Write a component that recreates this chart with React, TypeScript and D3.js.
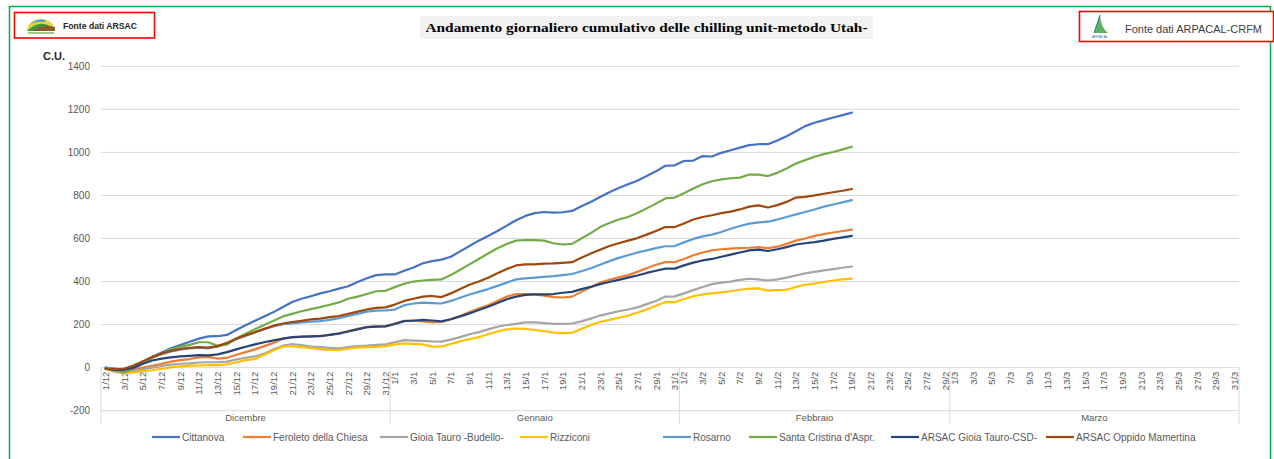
import React from "react";
import * as d3 from "d3";

const months = [
  { name: "Dicembre", days: 31, m: 12 },
  { name: "Gennaio", days: 31, m: 1 },
  { name: "Febbraio", days: 29, m: 2 },
  { name: "Marzo", days: 31, m: 3 },
];
const categories: string[] = months.flatMap((mo) =>
  Array.from({ length: mo.days }, (_, i) => `${i + 1}/${mo.m}`)
);
const yTicks = [-200, 0, 200, 400, 600, 800, 1000, 1200, 1400];

const cittanova = [0, -5, -10, 5, 25, 50, 70, 90, 105, 120, 135, 145, 146, 152, 175, 197, 218, 238, 258, 282, 305, 320, 332, 345, 355, 367, 378, 398, 415, 430, 433,
  433, 450, 465, 485, 495, 502, 515, 540, 565, 590, 612, 635, 660, 685, 705, 718, 723, 720, 722, 728, 750, 770, 793, 815, 835, 852, 868, 890, 912, 938, 940,
  960, 962, 983, 981, 998, 1010, 1022, 1034, 1038, 1038, 1055, 1075, 1098, 1122, 1138, 1150, 1162, 1173, 1185];
const feroleto = [-5, -12, -17, -10, 0, 8, 18, 28, 35, 40, 48, 50, 42, 45, 60, 72, 85, 100, 115, 135, 140, 143, 145, 148, 152, 160, 170, 180, 188, 192, 193,
  205, 218, 220, 215, 210, 212, 225, 240, 258, 275, 290, 310, 330, 342, 342, 340, 335, 328, 326, 330, 352, 375, 395, 408, 420, 430, 445, 462, 478, 490, 490,
  505, 522, 535, 545, 550, 553, 555, 557, 560, 555, 562, 575, 590, 600, 612, 620, 628, 635, 641];
const gioiaBudello = [-5, -15, -22, -15, -8, 0, 8, 14, 18, 20, 24, 25, 25, 28, 38, 46, 52, 65, 85, 102, 110, 105, 98, 95, 92, 90, 95, 100, 102, 106, 108,
  118, 128, 126, 124, 122, 121, 130, 142, 155, 165, 178, 190, 198, 203, 210, 211, 207, 203, 203, 205, 215, 228, 242, 252, 262, 270, 280, 295, 310, 330, 331,
  345, 360, 375, 388, 395, 400, 408, 413, 410, 405, 410, 418, 428, 438, 445, 452, 458, 464, 470];
const rizziconi = [-5, -20, -27, -22, -16, -12, -5, 1, 6, 9, 10, 12, 12, 15, 25, 35, 40, 60, 80, 98, 100, 95, 90, 86, 83, 82, 88, 93, 95, 96, 100,
  107, 113, 110, 108, 98, 98, 110, 122, 132, 142, 155, 168, 178, 182, 180, 175, 170, 163, 160, 162, 180, 198, 212, 222, 232, 242, 255, 270, 288, 304, 304,
  318, 332, 340, 345, 350, 355, 362, 367, 368, 358, 360, 362, 375, 385, 390, 398, 405, 410, 414];
const rosarno = [0, -5, -5, 10, 28, 48, 62, 75, 84, 90, 93, 90, 98, 112, 132, 148, 163, 178, 192, 202, 205, 210, 214, 216, 222, 230, 240, 250, 260, 265, 266,
  270, 290, 298, 302, 300, 298, 310, 325, 340, 352, 365, 380, 395, 410, 415, 418, 422, 425, 430, 435, 448, 462, 478, 495, 510, 522, 535, 545, 555, 564, 565,
  582, 598, 610, 618, 630, 645, 658, 669, 675, 678, 688, 700, 712, 723, 735, 748, 758, 768, 778];
const santaCristina = [-5, -15, -22, -5, 20, 45, 65, 85, 98, 106, 118, 118, 102, 107, 135, 158, 178, 198, 218, 238, 250, 262, 272, 281, 292, 303, 320, 330, 342, 355, 357,
  374, 390, 400, 405, 408, 410, 430, 455, 480, 505, 530, 555, 575, 590, 593, 592, 590, 578, 572, 575, 600, 625, 653, 672, 688, 700, 718, 740, 762, 786, 790,
  810, 832, 852, 866, 875, 880, 883, 897, 897, 890, 905, 925, 948, 964, 980, 992, 1002, 1014, 1026];
const arsacGioia = [-5, -10, -10, 0, 18, 33, 42, 48, 52, 55, 58, 57, 62, 72, 85, 97, 108, 118, 127, 135, 142, 144, 145, 146, 152, 158, 168, 178, 188, 191, 192,
  203, 216, 218, 222, 219, 215, 225, 238, 252, 268, 283, 300, 318, 330, 338, 340, 340, 342, 348, 352, 365, 375, 388, 398, 408, 418, 428, 440, 450, 460, 460,
  475, 488, 498, 505, 515, 525, 535, 545, 548, 542, 550, 560, 572, 578, 583, 590, 598, 605, 612];
const arsacOppido = [-5, -8, -5, 10, 30, 50, 65, 78, 87, 92, 95, 93, 100, 115, 135, 150, 165, 180, 195, 205, 212, 218, 224, 228, 235, 240, 250, 260, 270, 278, 280,
  293, 310, 320, 330, 333, 328, 345, 365, 385, 400, 418, 438, 458, 475, 480, 480, 483, 484, 487, 490, 510, 530, 548, 565, 578, 590, 602, 618, 635, 653, 653,
  670, 688, 700, 708, 718, 725, 735, 748, 754, 744, 755, 770, 790, 793, 800, 808, 815, 822, 830];

const seriesNames = ["Cittanova", "Feroleto della Chiesa", "Gioia Tauro -Budello-", "Rizziconi", "Rosarno", "Santa Cristina d'Aspr.", "ARSAC Gioia Tauro-CSD-", "ARSAC Oppido Mamertina"];
const seriesValues = [cittanova, feroleto, gioiaBudello, rizziconi, rosarno, santaCristina, arsacGioia, arsacOppido];
const seriesColors = ["#4472C4", "#ED7D31", "#A5A5A5", "#FFC000", "#5B9BD5", "#70AD47", "#264478", "#9E480E"];
const legendX = [152, 243, 380, 520, 663, 749, 891, 1046];

export default function App() {
  const x = d3.scaleBand<string>().domain(categories).range([101, 1239]).padding(0);
  const y = d3.scaleLinear().domain([-200, 1400]).range([410.7, 66.3]);
  const bw = x.bandwidth();
  const line = d3
    .line<number>()
    .x((_, i) => (x(categories[i]) as number) + bw / 2)
    .y((d) => y(d));

  const monthStarts: { name: string; x0: number; x1: number }[] = [];
  let idx = 0;
  months.forEach((mo) => {
    const x0 = x(categories[idx]) as number;
    const x1 = x0 + mo.days * bw;
    monthStarts.push({ name: mo.name, x0, x1 });
    idx += mo.days;
  });
  const y0 = y(0);
  const font = "'Liberation Sans', Arial, sans-serif";

  return (
    <svg width={1274} height={459} style={{ position: "absolute", left: 0, top: 0, background: "#fff" }} fontFamily={font}>
      <rect x={0} y={0} width={1274} height={459} fill="#fff" />
      <rect x={9.5} y={6.5} width={1261} height={470} fill="none" stroke="#00B050" strokeWidth={1.5} />

      {/* left logo box */}
      <rect x={14.5} y={12.5} width={140} height={25.5} fill="#fff" stroke="#FF0000" strokeWidth={1.6} />
      <g>
        <path d="M27,31 A14,12 0 0 1 55,31 Z" fill="#E8D43A" />
        <path d="M27,31 Q36,22 45,24 Q52,26 55,31 Z" fill="#3C9A3C" />
        <path d="M33,31 Q42,24 55,27 L55,31 Z" fill="#8B5A2B" />
        <path d="M30,24 Q37,18 46,20 L44,22 Q37,21 30,24 Z" fill="#4FA3C7" />
        <rect x={28} y={32} width={26} height={2} fill="#9ACD7A" />
      </g>
      <text x={63} y={28.5} fontSize={9} fontWeight="bold" fill="#262626" textLength={74} lengthAdjust="spacingAndGlyphs">Fonte dati ARSAC</text>

      {/* title */}
      <rect x={420} y={16} width={453} height={23} fill="#F2F2F2" />
      <text x={646.5} y={32} textAnchor="middle" fontFamily="'Liberation Serif', 'DejaVu Serif', serif" fontWeight="bold" fontSize={13.5} fill="#000" textLength={442} lengthAdjust="spacingAndGlyphs">
        Andamento giornaliero cumulativo delle chilling unit-metodo Utah-
      </text>

      {/* right logo box */}
      <rect x={1079.5} y={11.5} width={194} height={30} fill="#fff" stroke="#FF0000" strokeWidth={1.6} />
      <g>
        <path d="M1100,15 L1094,33 L1108,33 Q1101,28 1100,15 Z" fill="#5DB35D" />
        <path d="M1100,15 L1094,33" stroke="#2E6DB4" strokeWidth={1} />
        <text x={1100} y={37.5} fontSize={3.5} textAnchor="middle" fill="#2E6DB4">ARPACAL</text>
      </g>
      <text x={1125} y={33} fontSize={11} fill="#404040" textLength={137} lengthAdjust="spacingAndGlyphs">Fonte dati ARPACAL-CRFM</text>

      {/* C.U. */}
      <text x={43} y={60} fontSize={11} fontWeight="bold" fill="#262626">C.U.</text>

      {/* gridlines & y labels */}
      {yTicks.map((t) => (
        <g key={t}>
          {t !== 0 && <line x1={101} x2={1239} y1={y(t)} y2={y(t)} stroke="#D9D9D9" strokeWidth={1} />}
          <text x={90} y={y(t) + 3.5} textAnchor="end" fontSize={10} fill="#595959">{t}</text>
        </g>
      ))}

      {/* category axis area */}
      <line x1={101} x2={1239} y1={y0} y2={y0} stroke="#D9D9D9" strokeWidth={1} />
      {monthStarts.map((m, i) => (
        <g key={m.name}>
          <line x1={m.x0} x2={m.x0} y1={y0} y2={424} stroke="#D9D9D9" strokeWidth={1} />
          {i === monthStarts.length - 1 && <line x1={m.x1} x2={m.x1} y1={y0} y2={424} stroke="#D9D9D9" strokeWidth={1} />}
          <text x={(m.x0 + m.x1) / 2} y={421} textAnchor="middle" fontSize={9.5} fill="#595959">{m.name}</text>
        </g>
      ))}
      {categories.map((c) =>
        parseInt(c.split("/")[0], 10) % 2 === 1 ? (
          <text key={c} transform={`translate(${(x(c) as number) + bw / 2 + 3.5},${y0 + 4}) rotate(-90)`} textAnchor="end" fontSize={9.5} fill="#595959">
            {c}
          </text>
        ) : null
      )}

      {/* series */}
      {seriesValues.map((vals, si) => (
        <path key={si} d={line(vals) || ""} fill="none" stroke={seriesColors[si]} strokeWidth={2.2} strokeLinejoin="round" strokeLinecap="round" />
      ))}

      {/* legend */}
      {seriesNames.map((n, i) => (
        <g key={n}>
          <line x1={legendX[i]} x2={legendX[i] + 28} y1={437} y2={437} stroke={seriesColors[i]} strokeWidth={2.2} />
          <text x={legendX[i] + 30} y={440.5} fontSize={10} fill="#595959">{n}</text>
        </g>
      ))}
    </svg>
  );
}
